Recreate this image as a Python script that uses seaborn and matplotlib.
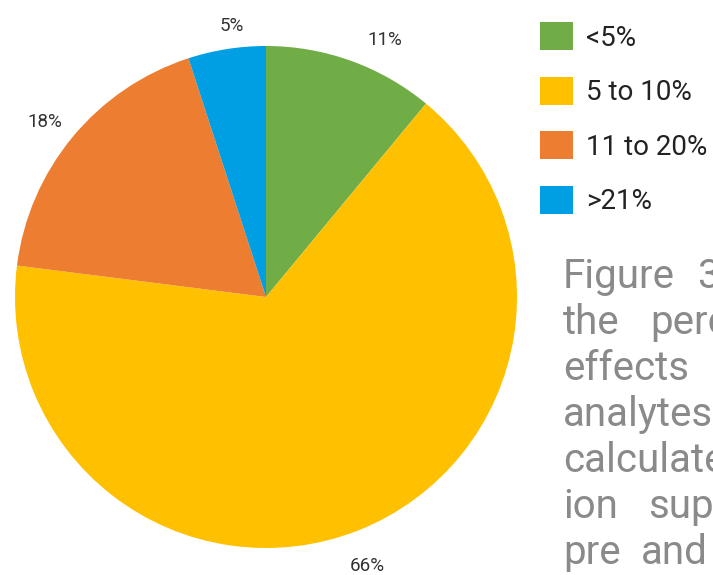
import matplotlib
matplotlib.use("Agg")
import numpy as np
import matplotlib.pyplot as plt
import seaborn as sns

# Share of analytes per matrix-effect band
categories = ["<5%", "5 to 10%", "11 to 20%", ">21%"]
shares = [11, 66, 18, 5]
colors = ["#70ad47", "#ffc000", "#ed7d31", "#009fe3"]

# Caption words, one list per line (word, x position in px)
caption_lines = [
    [("Figure", 563), ("3", 697)],
    [("the", 563), ("percentage", 650)],
    [("effects", 563), ("of", 720)],
    [("analytes", 563)],
    [("calculated", 563)],
    [("ion", 563), ("suppression", 648)],
    [("pre", 563), ("and", 641)],
]

sns.set_theme(style="white")
plt.rcParams["font.family"] = ["Roboto", "DejaVu Sans"]

W, H = 713, 575
fig = plt.figure(figsize=(W / 100, H / 100), dpi=100)

cx, cy, r = 266, 297, 251
ax = fig.add_axes([(cx - r) / W, (H - cy - r) / H, 2 * r / W, 2 * r / H])
wedges, texts = ax.pie(
    shares,
    colors=colors,
    startangle=90,
    counterclock=False,
    labels=[f"{v}%" for v in shares],
    labeldistance=1.12,
    wedgeprops=dict(linewidth=0),
    textprops=dict(fontsize=13.5, color="#333333", ha="center", va="center"),
)

# fine placement of the value labels around the rim
label_nudge_deg = [-5.0, -1.0, 1.2, -1.7]
label_dist = [1.128, 1.147, 1.123, 1.089]
for w, t, dn, d in zip(wedges, texts, label_nudge_deg, label_dist):
    ang = np.deg2rad((w.theta1 + w.theta2) / 2 + dn)
    t.set_position((d * np.cos(ang), d * np.sin(ang)))
    t.set_ha("center")
    t.set_va("center")

ax.set_xlim(-1, 1)
ax.set_ylim(-1, 1)
ax.set_aspect("equal")
ax.axis("off")

fs = 20
fig.legend(
    wedges,
    categories,
    loc="upper left",
    bbox_to_anchor=(540 / W, 1 - 22 / H),
    frameon=False,
    fontsize=fs,
    handlelength=1.19,
    handleheight=1.19,
    handletextpad=0.47,
    labelspacing=0.9,
    borderpad=0,
    borderaxespad=0,
    labelcolor="#222222",
)

for i, words in enumerate(caption_lines):
    base = 288 + 46 * i
    for word, x in words:
        fig.text(x / W, 1 - base / H, word, fontsize=29, color="#8a8a8a",
                 fontweight="normal", ha="left", va="baseline")

fig.savefig("out.png", dpi=100)
